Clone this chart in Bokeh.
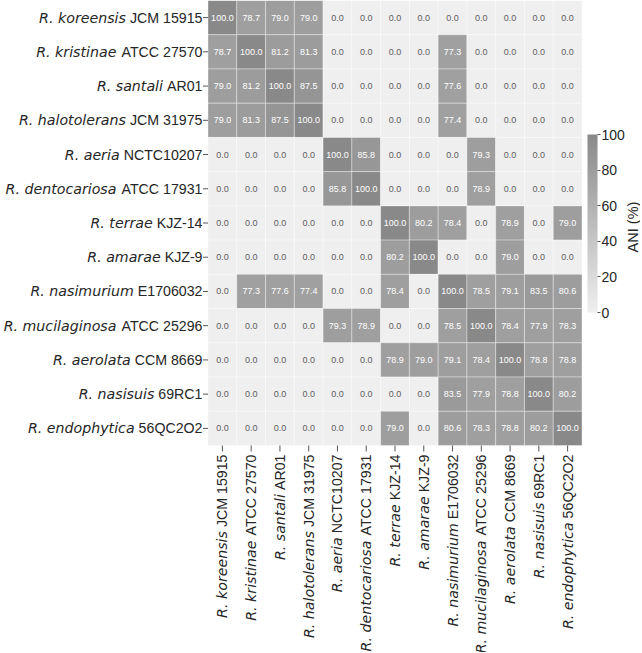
import math
from bokeh.plotting import figure
from bokeh.models import ColumnDataSource, LinearColorMapper, ColorBar, FixedTicker, Range1d
from bokeh.core.properties import value
from bokeh.embed import file_html
from bokeh.resources import INLINE

# ---------------- data ----------------
species = ["R. koreensis", "R. kristinae", "R. santali", "R. halotolerans",
           "R. aeria", "R. dentocariosa", "R. terrae", "R. amarae",
           "R. nasimurium", "R. mucilaginosa", "R. aerolata", "R. nasisuis",
           "R. endophytica"]
strains = ["JCM 15915", "ATCC 27570", "AR01", "JCM 31975", "NCTC10207",
           "ATCC 17931", "KJZ-14", "KJZ-9", "E1706032", "ATCC 25296",
           "CCM 8669", "69RC1", "56QC2O2"]
ani_values = [
    [100.0, 78.7, 79.0, 79.0, 0.0, 0.0, 0.0, 0.0, 0.0, 0.0, 0.0, 0.0, 0.0],
    [78.7, 100.0, 81.2, 81.3, 0.0, 0.0, 0.0, 0.0, 77.3, 0.0, 0.0, 0.0, 0.0],
    [79.0, 81.2, 100.0, 87.5, 0.0, 0.0, 0.0, 0.0, 77.6, 0.0, 0.0, 0.0, 0.0],
    [79.0, 81.3, 87.5, 100.0, 0.0, 0.0, 0.0, 0.0, 77.4, 0.0, 0.0, 0.0, 0.0],
    [0.0, 0.0, 0.0, 0.0, 100.0, 85.8, 0.0, 0.0, 0.0, 79.3, 0.0, 0.0, 0.0],
    [0.0, 0.0, 0.0, 0.0, 85.8, 100.0, 0.0, 0.0, 0.0, 78.9, 0.0, 0.0, 0.0],
    [0.0, 0.0, 0.0, 0.0, 0.0, 0.0, 100.0, 80.2, 78.4, 0.0, 78.9, 0.0, 79.0],
    [0.0, 0.0, 0.0, 0.0, 0.0, 0.0, 80.2, 100.0, 0.0, 0.0, 79.0, 0.0, 0.0],
    [0.0, 77.3, 77.6, 77.4, 0.0, 0.0, 78.4, 0.0, 100.0, 78.5, 79.1, 83.5, 80.6],
    [0.0, 0.0, 0.0, 0.0, 79.3, 78.9, 0.0, 0.0, 78.5, 100.0, 78.4, 77.9, 78.3],
    [0.0, 0.0, 0.0, 0.0, 0.0, 0.0, 78.9, 79.0, 79.1, 78.4, 100.0, 78.8, 78.8],
    [0.0, 0.0, 0.0, 0.0, 0.0, 0.0, 0.0, 0.0, 83.5, 77.9, 78.8, 100.0, 80.2],
    [0.0, 0.0, 0.0, 0.0, 0.0, 0.0, 79.0, 0.0, 80.6, 78.3, 78.8, 80.2, 100.0],
]
cbar_ticks = [0, 20, 40, 60, 80, 100]
cbar_title = "ANI (%)"

# ---------------- layout (pixels) ----------------
W, H = 640, 652
HM_LEFT, HM_RIGHT, HM_TOP, HM_BOTTOM = 207.5, 581.5, 0.0, 445.0
LABEL_SIZE = 14.2
TEXT_COL = "#262626"
TICK_COL = "#555555"

ARIAL = {" ": 278, "-": 333, "A": 667, "B": 667, "C": 722, "D": 722, "E": 667,
         "F": 611, "G": 778, "H": 722, "I": 278, "J": 500, "K": 667, "L": 556,
         "M": 833, "N": 722, "O": 778, "P": 667, "Q": 778, "R": 722, "S": 667,
         "T": 611, "U": 722, "V": 667, "W": 944, "X": 667, "Y": 667, "Z": 611}


def arial_width(s, size):
    return sum(ARIAL.get(c, 556) for c in s) / 1000.0 * size


n = len(species)
centers = [i + 0.5 for i in range(n)]
sx = (HM_RIGHT - HM_LEFT) / n          # px per cell horizontally
sy = (HM_BOTTOM - HM_TOP) / n          # px per cell vertically
px = lambda d: d / sx                  # px -> data (x)
py = lambda d: d / sy                  # px -> data (y)

# colour map: light grey (0) -> mid grey (100)
lo, hi = (239, 239, 239), (137, 137, 137)
palette = []
for k in range(256):
    t = k / 255.0
    c = tuple(round(lo[j] + (hi[j] - lo[j]) * t) for j in range(3))
    palette.append("#%02x%02x%02x" % c)
mapper = LinearColorMapper(palette=palette, low=0, high=100)

# long-form cell table
xs, ys, vs, txt, tcol = [], [], [], [], []
for r in range(n):
    for c in range(n):
        v = ani_values[r][c]
        xs.append(centers[c])
        ys.append(centers[r])
        vs.append(v)
        txt.append(f"{v:.1f}")
        tcol.append("#ffffff" if v > 50 else "#606060")
cells = ColumnDataSource(dict(x=xs, y=ys, v=vs, t=txt, tc=tcol))

p = figure(width=W, height=H,
           x_range=Range1d(-px(HM_LEFT), px(W - HM_LEFT)),
           y_range=Range1d(py(H - HM_TOP), -py(HM_TOP)),
           output_backend="svg", toolbar_location=None,
           x_axis_location=None, y_axis_location=None,
           min_border=0)
p.outline_line_color = None
p.xgrid.visible = False
p.ygrid.visible = False
p.background_fill_color = "white"
p.border_fill_color = "white"

p.rect(x="x", y="y", width=1, height=1, source=cells,
       fill_color={"field": "v", "transform": mapper},
       line_color="white", line_alpha=0.35, line_width=1)
p.text(x="x", y="y", text="t", source=cells, text_color="tc",
       text_align="center", text_baseline="middle",
       text_font=value("Liberation Sans"), text_font_size="9px")

# tick marks
TICK = 5
p.segment(x0=[-px(TICK)] * n, x1=[0] * n, y0=centers, y1=centers,
          line_color=TICK_COL, line_width=1)
p.segment(x0=centers, x1=centers, y0=[n] * n, y1=[n + py(TICK + 1)] * n,
          line_color=TICK_COL, line_width=1)

# y tick labels: italic species + regular strain
GAP = 4
y_off = 5.5
ylab = ColumnDataSource(dict(
    xs=[-px(y_off)] * n,
    xi=[-px(y_off + arial_width(s, LABEL_SIZE) + GAP) for s in strains],
    y=centers, strain=strains, sp=species))
p.text(x="xs", y="y", text="strain", source=ylab,
       text_align="right", text_baseline="middle",
       text_font=value("Liberation Sans"),
       text_font_size=f"{LABEL_SIZE}px", text_color=TEXT_COL)
p.text(x="xi", y="y", text="sp", source=ylab,
       text_align="right", text_baseline="middle",
       text_font=value("DejaVu Sans"), text_font_style="italic",
       text_font_size=f"{LABEL_SIZE}px", text_color=TEXT_COL)

# x tick labels (rotated, reading upward)
x_off = 9
xlab = ColumnDataSource(dict(
    x=centers,
    ys=[n + py(x_off)] * n,
    yi=[n + py(x_off + arial_width(s, LABEL_SIZE) + GAP) for s in strains],
    strain=strains, sp=species))
p.text(x="x", y="ys", text="strain", source=xlab, angle=math.pi / 2,
       text_align="right", text_baseline="middle",
       text_font=value("Liberation Sans"),
       text_font_size=f"{LABEL_SIZE}px", text_color=TEXT_COL)
p.text(x="x", y="yi", text="sp", source=xlab, angle=math.pi / 2,
       text_align="right", text_baseline="middle",
       text_font=value("DejaVu Sans"), text_font_style="italic",
       text_font_size=f"{LABEL_SIZE}px", text_color=TEXT_COL)

# colour bar
CB_LEFT, CB_TOP, CB_BOTTOM = 587, 134, 312
cb = ColorBar(color_mapper=mapper, ticker=FixedTicker(ticks=cbar_ticks),
              location=(CB_LEFT, H - CB_BOTTOM), width=10, height=CB_BOTTOM - CB_TOP,
              margin=0, padding=0, label_standoff=1,
              major_tick_out=3, major_tick_in=0,
              major_tick_line_color=TICK_COL,
              major_label_text_font="Liberation Sans",
              major_label_text_font_size="14px",
              major_label_text_color=TEXT_COL,
              bar_line_color=None, background_fill_alpha=0)
p.add_layout(cb, "center")

p.text(x=[n + px(632 - HM_RIGHT)], y=[py(226.5)], text=[cbar_title], angle=math.pi / 2,
       text_align="center", text_baseline="middle",
       text_font=value("Liberation Sans"), text_font_size="14.5px",
       text_color=TEXT_COL)

open("out.html", "w").write(file_html(p, INLINE))
